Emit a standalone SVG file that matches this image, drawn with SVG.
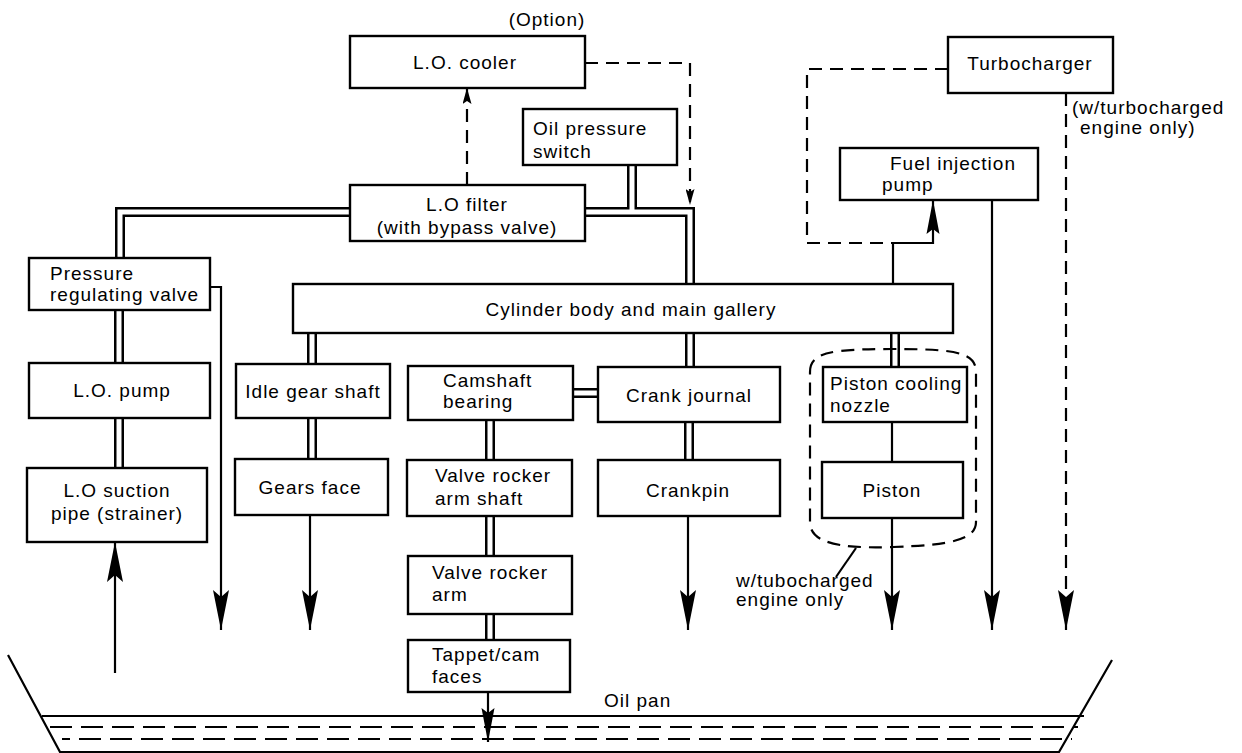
<svg xmlns="http://www.w3.org/2000/svg" width="1242" height="753" viewBox="0 0 1242 753">
<style>
.box{fill:#fff;stroke:#000;stroke-width:2.4}
.t{font-family:"Liberation Sans",Arial,sans-serif;font-size:19px;letter-spacing:1px;fill:#000}
.m{text-anchor:middle}
.po{fill:none;stroke:#000;stroke-width:10;stroke-linejoin:miter}
.pi{fill:none;stroke:#fff;stroke-width:5;stroke-linejoin:miter}
.ln{fill:none;stroke:#000;stroke-width:2.2}
.ds{fill:none;stroke:#000;stroke-width:2.2;stroke-dasharray:13 8}
</style>
<defs>
<marker id="ab" markerUnits="userSpaceOnUse" markerWidth="40" markerHeight="18" viewBox="0 0 40 18" refX="40" refY="9" orient="auto"><path d="M40,9 L0,1 L7,9 L0,17 Z" fill="#000"/></marker>
<marker id="am" markerUnits="userSpaceOnUse" markerWidth="34" markerHeight="14" viewBox="0 0 34 14" refX="34" refY="7" orient="auto"><path d="M34,7 L0,0.5 L5,7 L0,13.5 Z" fill="#000"/></marker>
<marker id="as" markerUnits="userSpaceOnUse" markerWidth="16" markerHeight="9" viewBox="0 0 16 9" refX="16" refY="4.5" orient="auto"><path d="M16,4.5 L0,0 L3,4.5 L0,9 Z" fill="#000"/></marker>
</defs>

<g id="connectors">
  <!-- double-line oil pipes -->
  <g class="po">
    <path d="M350,212 H120 V258"/>
    <path d="M585,212 H690 V284"/>
    <path d="M632,165 V212"/>
    <path d="M119,310 V363"/>
    <path d="M119,418 V468"/>
    <path d="M312,333 V364"/>
    <path d="M312,418 V459"/>
    <path d="M690,333 V367"/>
    <path d="M573,393 H598"/>
    <path d="M490,420 V460"/>
    <path d="M490,516 V556"/>
    <path d="M490,614 V640"/>
    <path d="M689,422 V460"/>
    <path d="M895,333 V367"/>
  </g>
  <g class="pi">
    <path d="M350,212 H120 V258"/>
    <path d="M585,212 H690 V284"/>
    <path d="M632,165 V212"/>
    <path d="M119,310 V363"/>
    <path d="M119,418 V468"/>
    <path d="M312,333 V364"/>
    <path d="M312,418 V459"/>
    <path d="M690,333 V367"/>
    <path d="M573,393 H598"/>
    <path d="M490,420 V460"/>
    <path d="M490,516 V556"/>
    <path d="M490,614 V640"/>
    <path d="M689,422 V460"/>
    <path d="M895,333 V367"/>
  </g>
  <!-- single-line returns -->
  <path class="ln" d="M210,287 H221 V630" marker-end="url(#ab)"/>
  <path class="ln" d="M310,515 V630" marker-end="url(#ab)"/>
  <path class="ln" d="M688,516 V630" marker-end="url(#ab)"/>
  <path class="ln" d="M892,422 V462"/>
  <path class="ln" d="M892,518 V630" marker-end="url(#ab)"/>
  <path class="ln" d="M992,200 V630" marker-end="url(#ab)"/>
  <path class="ln" d="M893,284 V243 H933 V200" marker-end="url(#am)"/>
  <path class="ln" d="M115,673 V542" marker-end="url(#ab)"/>
  <path class="ln" d="M488,692 V742" marker-end="url(#am)"/>
  <!-- dashed optional lines -->
  <path class="ds" d="M467,185 V88" marker-end="url(#as)"/>
  <path class="ds" d="M585,63 H690 V205" marker-end="url(#as)"/>
  <path class="ds" d="M948,69 H807 V243 H893"/>
  <path class="ds" d="M1066,93 V630" marker-end="url(#ab)"/>
  <!-- turbocharged-only enclosure -->
  <path class="ds" d="M810,372 C810,352 832,349 893,349 C954,349 976,352 976,372 L976,522 C976,540 950,545 893,547 C836,549 810,542 810,522 Z"/>
  <path class="ln" d="M856,548 L836,577" stroke-width="1.5"/>
</g>

<g id="cooler"><rect class="box" x="350" y="36" width="235" height="52"/><text class="t m" x="465" y="69">L.O. cooler</text></g>
<g id="option"><text class="t m" x="547" y="26">(Option)</text></g>
<g id="oilswitch"><rect class="box" x="523" y="109" width="154" height="56"/><text class="t" x="533" y="135">Oil pressure</text><text class="t" x="533" y="158">switch</text></g>
<g id="filter"><rect class="box" x="350" y="185" width="235" height="56"/><text class="t m" x="467" y="211">L.O filter</text><text class="t m" x="467" y="234">(with bypass valve)</text></g>
<g id="turbo"><rect class="box" x="948" y="37" width="165" height="56"/><text class="t m" x="1030" y="70">Turbocharger</text></g>
<g id="turbonote"><text class="t" x="1072" y="114">(w/turbocharged</text><text class="t" x="1080" y="134">engine only)</text></g>
<g id="fuelpump"><rect class="box" x="840" y="148" width="198" height="52"/><text class="t" x="890" y="170">Fuel injection</text><text class="t" x="882" y="191">pump</text></g>
<g id="prv"><rect class="box" x="29" y="258" width="181" height="52"/><text class="t" x="50" y="280">Pressure</text><text class="t" x="50" y="301">regulating valve</text></g>
<g id="gallery"><rect class="box" x="293" y="284" width="660" height="49"/><text class="t m" x="631" y="316">Cylinder body and main gallery</text></g>
<g id="lopump"><rect class="box" x="29" y="363" width="181" height="55"/><text class="t m" x="122" y="397">L.O. pump</text></g>
<g id="idlegear"><rect class="box" x="236" y="364" width="154" height="54"/><text class="t m" x="313" y="398">Idle gear shaft</text></g>
<g id="camshaft"><rect class="box" x="408" y="366" width="165" height="54"/><text class="t" x="443" y="387">Camshaft</text><text class="t" x="443" y="408">bearing</text></g>
<g id="crankjournal"><rect class="box" x="598" y="367" width="182" height="55"/><text class="t m" x="689" y="402">Crank journal</text></g>
<g id="nozzle"><rect class="box" x="823" y="367" width="144" height="55"/><text class="t" x="830" y="390">Piston cooling</text><text class="t" x="830" y="412">nozzle</text></g>
<g id="suction"><rect class="box" x="27" y="468" width="180" height="74"/><text class="t m" x="117" y="497">L.O suction</text><text class="t m" x="117" y="520">pipe (strainer)</text></g>
<g id="gears"><rect class="box" x="235" y="459" width="153" height="56"/><text class="t m" x="310" y="494">Gears face</text></g>
<g id="rockershaft"><rect class="box" x="407" y="460" width="165" height="56"/><text class="t" x="435" y="482">Valve rocker</text><text class="t" x="435" y="505">arm shaft</text></g>
<g id="crankpin"><rect class="box" x="598" y="460" width="182" height="56"/><text class="t m" x="688" y="497">Crankpin</text></g>
<g id="piston"><rect class="box" x="822" y="462" width="141" height="56"/><text class="t m" x="892" y="497">Piston</text></g>
<g id="rockerarm"><rect class="box" x="408" y="556" width="164" height="58"/><text class="t" x="432" y="579">Valve rocker</text><text class="t" x="432" y="601">arm</text></g>
<g id="tappet"><rect class="box" x="408" y="640" width="162" height="52"/><text class="t" x="432" y="661">Tappet/cam</text><text class="t" x="432" y="683">faces</text></g>
<g id="turbolabel"><text class="t" x="736" y="587">w/tubocharged</text><text class="t" x="736" y="606">engine only</text></g>

<g id="oilpan">
  <path class="ln" d="M8,655 L60,752 H1059 L1112,660" stroke-width="2.4"/>
  <path class="ln" d="M42,716 H1084" stroke-width="2.2"/>
  <path class="ln" d="M50,727 H1078" stroke-dasharray="22 9" stroke-width="2.4"/>
  <path class="ln" d="M62,739 H1072" stroke-dasharray="22 9" stroke-dashoffset="14" stroke-width="2.4"/>
  <text class="t" x="604" y="707">Oil pan</text>
</g>
</svg>
